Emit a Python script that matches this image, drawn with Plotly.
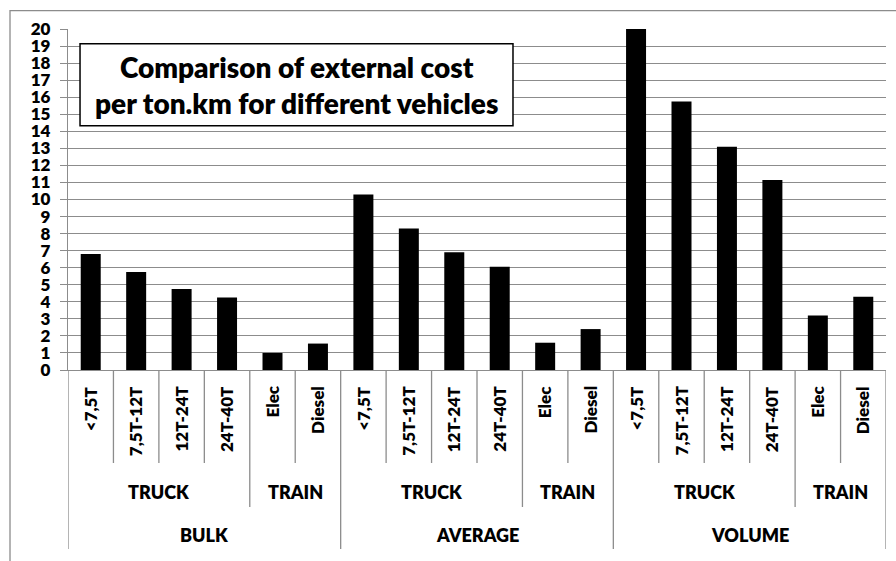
import plotly.graph_objects as go

# Hierarchical category labels
groups = ["BULK", "AVERAGE", "VOLUME"]
modes = ["TRUCK", "TRAIN"]
mode_sizes = [4, 2]
vehicles = ["<7,5T", "7,5T-12T", "12T-24T", "24T-40T", "Elec", "Diesel"]

# External cost per ton.km
bulk = [6.8, 5.75, 4.75, 4.25, 1.0, 1.55]
average = [10.3, 8.3, 6.9, 6.05, 1.6, 2.4]
volume = [20.0, 15.75, 13.1, 11.15, 3.2, 4.3]

y_ticks = list(range(0, 21))

values = bulk + average + volume
labels = vehicles * len(groups)
xs = list(range(len(values)))

FONT = "Lato"
WEIGHT = 800
GRID = "#8c8c8c"

fig = go.Figure()
fig.add_trace(go.Bar(
    x=xs, y=values, width=0.44,
    marker=dict(color="black", line=dict(width=0)),
    hoverinfo="skip",
))

# paper-y positions of the category table rows
ROW1_BOTTOM = -0.2727
ROW2_BOTTOM = -0.4018
ROW3_BOTTOM = -0.525
ROW1_TEXT_TOP = -0.041
ROW2_TEXT = -0.3578
ROW3_TEXT = -0.4839

shapes = []
annotations = []

def vline(xpos, y_bottom):
    shapes.append(dict(type="line", xref="x", yref="paper",
                       x0=xpos, x1=xpos, y0=0, y1=y_bottom,
                       line=dict(color=GRID, width=1.3)))

n = len(values)
per_group = len(vehicles)
mode_bounds = [0, mode_sizes[0], per_group]
for i in range(n + 1):
    pos = i - 0.5
    if i % per_group == 0:
        vline(pos, ROW3_BOTTOM)
    elif (i % per_group) in mode_bounds:
        vline(pos, ROW2_BOTTOM)
    else:
        vline(pos, ROW1_BOTTOM)

for i, lab in enumerate(labels):
    annotations.append(dict(
        x=i, y=ROW1_TEXT_TOP, xref="x", yref="paper", text=lab,
        textangle=-90, showarrow=False, xanchor="center", yanchor="top",
        font=dict(family=FONT, size=17, color="black", weight=WEIGHT)))

for g, gname in enumerate(groups):
    start = g * per_group
    offset = 0
    for m, mname in enumerate(modes):
        s = start + offset
        e = s + mode_sizes[m] - 1
        annotations.append(dict(
            x=(s + e) / 2, y=ROW2_TEXT, xref="x", yref="paper", text=mname,
            showarrow=False, xanchor="center", yanchor="middle",
            font=dict(family=FONT, size=18, color="black", weight=WEIGHT)))
        offset += mode_sizes[m]
    annotations.append(dict(
        x=start + (per_group - 1) / 2, y=ROW3_TEXT, xref="x", yref="paper",
        text=gname, showarrow=False, xanchor="center", yanchor="middle",
        font=dict(family=FONT, size=18, color="black", weight=WEIGHT)))

# outer chart-area frame
shapes.append(dict(type="rect", xref="paper", yref="paper",
                   x0=-0.0709, x1=1.05, y0=-0.65, y1=1.0537,
                   line=dict(color=GRID, width=1.3), fillcolor="rgba(0,0,0,0)"))

# boxed title
shapes.append(dict(type="rect", xref="paper", yref="paper", layer="above",
                   x0=0.0147, x1=0.544, y0=0.7164, y1=0.9569,
                   line=dict(color="black", width=1.5), fillcolor="white"))
annotations.append(dict(
    x=(0.0147 + 0.544) / 2, y=(0.7164 + 0.9569) / 2, xref="paper", yref="paper",
    text="Comparison of external cost<br>per ton.km for different vehicles",
    showarrow=False, xanchor="center", yanchor="middle", align="center",
    font=dict(family=FONT, size=28, color="black", weight=WEIGHT)))

fig.update_layout(
    width=896, height=561,
    margin=dict(l=68, r=10, t=29, b=191),
    paper_bgcolor="white", plot_bgcolor="white",
    showlegend=False,
    shapes=shapes, annotations=annotations,
    xaxis=dict(range=[-0.5, n - 0.5], showticklabels=False, showgrid=False,
               zeroline=False, showline=True, linecolor=GRID, linewidth=1.3,
               ticks=""),
    yaxis=dict(range=[0, 20], tickvals=y_ticks, showgrid=True, gridcolor=GRID,
               gridwidth=1.3, zeroline=False, showline=True, linecolor=GRID,
               linewidth=1.3, ticks="outside", ticklen=7, tickcolor=GRID,
               tickwidth=1.3, ticklabelstandoff=6,
               tickfont=dict(family=FONT, size=17, color="black", weight=WEIGHT)),
)

fig.write_html("out.html")
